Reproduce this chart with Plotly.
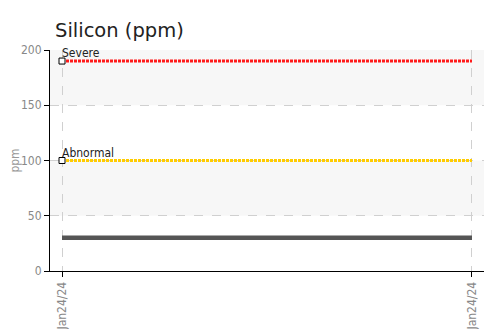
import plotly.graph_objects as go

# Data
dates = ["Jan24/24", "Jan24/24"]
x_idx = [0, 1]
silicon = [30, 30]
severe = [190, 190]
abnormal = [100, 100]
bands = [(50, 100), (150, 200)]
y_ticks = [0, 50, 100, 150, 200]

FONT_C = "DejaVu Sans Condensed, DejaVu Sans, sans-serif"

# page body has an 8px default margin, so the figure is sized to fit the window
W, H = 484, 321

fig = go.Figure()

fig.add_trace(go.Scatter(
    x=x_idx, y=severe, mode="lines",
    line=dict(color="#ff1a1a", width=3, dash="3px,1px"),
    hoverinfo="skip", showlegend=False))
fig.add_trace(go.Scatter(
    x=x_idx, y=abnormal, mode="lines",
    line=dict(color="#ffcc00", width=3, dash="3px,1px"),
    hoverinfo="skip", showlegend=False))
fig.add_trace(go.Scatter(
    x=x_idx, y=silicon, mode="lines",
    line=dict(color="#555555", width=4.5),
    showlegend=False))
# start markers
fig.add_trace(go.Scatter(
    x=[x_idx[0], x_idx[0]], y=[severe[0], abnormal[0]], mode="markers",
    marker=dict(symbol="square", size=6, color="white",
                line=dict(color="black", width=1)),
    showlegend=False, hoverinfo="skip"))

for lbl, val in (("Severe", severe[0]), ("Abnormal", abnormal[0])):
    fig.add_annotation(x=x_idx[0], y=val, xref="x", yref="y", text=lbl,
                       showarrow=False, xanchor="left", yanchor="bottom",
                       xshift=-2, yshift=-1,
                       font=dict(family=FONT_C, size=12, color="#222222"))

for lo, hi in bands:
    fig.add_shape(type="rect", xref="paper", yref="y", x0=0, x1=1, y0=lo, y1=hi,
                  fillcolor="#f7f7f7", line=dict(width=0), layer="below")

fig.update_layout(
    width=W, height=H,
    margin=dict(l=42, r=8, t=42, b=58, autoexpand=False),
    paper_bgcolor="white", plot_bgcolor="white",
    title=dict(text="Silicon (ppm)", x=47/W, xref="container", xanchor="left",
               y=1-22/H, yref="container", yanchor="middle", automargin=False,
               font=dict(family="DejaVu Sans, sans-serif", size=19.5, color="#222222")),
    xaxis=dict(range=[-0.0293, 1.0293], tickmode="array", tickvals=x_idx, ticktext=dates,
               tickangle=-90, showgrid=True, gridcolor="#d0d0d0", griddash="dash", gridwidth=1,
               showline=True, linecolor="black", linewidth=1, automargin=False,
               ticks="outside", ticklen=5, tickcolor="black",
               tickfont=dict(family=FONT_C, size=12, color="#888888"), zeroline=False),
    yaxis=dict(range=[0, 200], tickmode="array", tickvals=y_ticks,
               showgrid=True, gridcolor="#d0d0d0", griddash="dash", gridwidth=1,
               showline=True, linecolor="black", linewidth=1, automargin=False,
               ticks="outside", ticklen=5, tickcolor="black",
               tickfont=dict(family=FONT_C, size=12, color="#888888"), zeroline=False,
               title=dict(text="ppm", standoff=4,
                          font=dict(family=FONT_C, size=12, color="#999999"))),
)

fig.write_html("out.html")
